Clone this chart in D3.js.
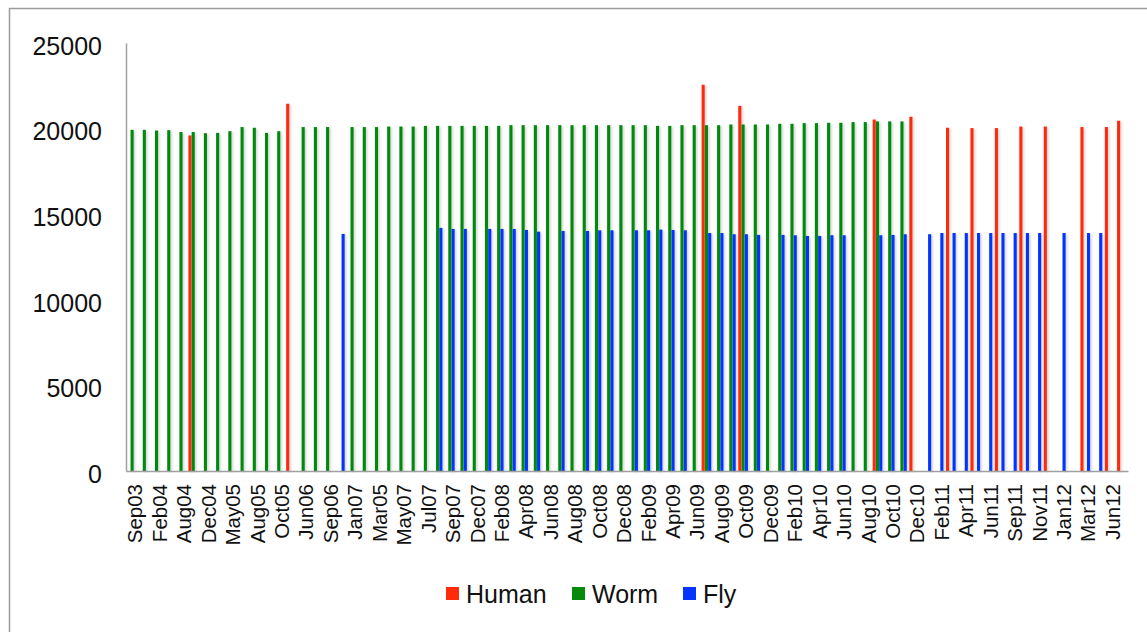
<!DOCTYPE html>
<html>
<head>
<meta charset="utf-8">
<script src="https://cdn.jsdelivr.net/npm/d3@7"></script>
<style>
  body { margin: 0; background: #fff; }
  text { font-family: "Liberation Sans", Arial, Helvetica, sans-serif; fill: #111; }
</style>
</head>
<body>
<svg id="chart"></svg>
<script>
// series names shown in the legend
var seriesNames = ["Human", "Worm", "Fly"];

// visible x labels (Excel shows every second category)
var tickLabels = ["Sep03","Feb04","Aug04","Dec04","May05","Aug05","Oct05","Jun06","Sep06","Jan07",
  "Mar05","May07","Jul07","Sep07","Dec07","Feb08","Apr08","Jun08","Aug08","Oct08",
  "Dec08","Feb09","Apr09","Jun09","Aug09","Oct09","Dec09","Feb10","Apr10","Jun10",
  "Aug10","Oct10","Dec10","Feb11","Apr11","Jun11","Sep11","Nov11","Jan12","Mar12","Jun12"];

var yTicks = [0, 5000, 10000, 15000, 20000, 25000];

// one value per category (82 categories), null where the series has no bar
var human = [
  null,null,null,null,null,19600,null,null,null,null,
  null,null,null,21450,null,null,null,null,null,null,
  null,null,null,null,null,null,null,null,null,null,
  null,null,null,null,null,null,null,null,null,null,
  null,null,null,null,null,null,null,22560,null,null,
  21330,null,null,null,null,null,null,null,null,null,
  null,20530,null,null,20690,null,null,20050,null,20030,
  null,20030,null,20120,null,20120,null,null,20090,null,
  20090,20460];

var worm = [
  19930,19930,19890,19910,19800,19800,19730,19750,19850,20090,
  20050,19750,19850,null,20090,20090,20090,null,20090,20090,
  20090,20120,20120,20120,20160,20160,20160,20160,20160,20160,
  20160,20200,20200,20200,20200,20200,20200,20200,20200,20200,
  20200,20200,20200,20160,20160,20200,20200,20200,20200,20240,
  20240,20240,20240,20280,20280,20320,20320,20340,20340,20380,
  20380,20420,20420,20420,null,null,null,null,null,null,
  null,null,null,null,null,null,null,null,null,null,
  null,null];

var fly = [
  null,null,null,null,null,null,null,null,null,null,
  null,null,null,null,null,null,null,13850,null,null,
  null,null,null,null,null,14200,14140,14140,null,14140,
  14140,14140,14080,13980,null,14020,null,14020,14060,14060,
  null,14060,14060,14100,14080,14060,null,13900,13900,13830,
  13830,13790,null,13790,13770,13730,13730,13770,13770,null,
  null,13770,13790,13830,null,13830,13900,13900,13900,13900,
  13900,13900,13900,13900,13900,null,13900,null,13900,13900,
  null,null];

var colors = {Human: "#ff2a0a", Worm: "#068a0c", Fly: "#0634ff"};

var width = 1147, height = 632;
var margin = {left: 126, right: 19, top: 43, bottom: 161};
var plotW = width - margin.left - margin.right;
var plotH = height - margin.top - margin.bottom;

var svg = d3.select("#chart")
    .attr("width", width)
    .attr("height", height);

var defs = svg.append("defs");
defs.append("filter")
    .attr("id", "shadow")
    .attr("x", "-100%").attr("y", "-5%")
    .attr("width", "400%").attr("height", "110%")
  .append("feDropShadow")
    .attr("dx", 1.5).attr("dy", 1)
    .attr("stdDeviation", 1.3)
    .attr("flood-color", "#000")
    .attr("flood-opacity", 0.18);

// outer chart frame
svg.append("rect")
    .attr("x", 9.5).attr("y", 8.5)
    .attr("width", 1150).attr("height", 640)
    .attr("fill", "none")
    .attr("stroke", "#9c9c9c")
    .attr("stroke-width", 1.5);

var g = svg.append("g")
    .attr("transform", "translate(" + margin.left + "," + margin.top + ")");

var index = d3.range(worm.length);

// category band and inner band for the three series
var x = d3.scaleBand()
    .domain(index)
    .range([0, plotW])
    .paddingInner(0.21)
    .paddingOuter(0.105);

var xs = d3.scaleBand()
    .domain(seriesNames)
    .range([0, x.bandwidth()])
    .paddingInner(0.05);

var y = d3.scaleLinear()
    .domain([0, 25000])
    .range([plotH, 0]);

var rows = index.map(function(i) {
    return {i: i, Human: human[i], Worm: worm[i], Fly: fly[i]};
});

// bars
var groups = g.append("g")
    .selectAll("g")
    .data(rows)
    .join("g")
    .attr("transform", function(d) { return "translate(" + x(d.i) + ",0)"; });

groups.selectAll("rect")
    .data(function(d) {
        return seriesNames
            .filter(function(s) { return d[s] != null; })
            .map(function(s) { return {key: s, value: d[s]}; });
    })
    .join("rect")
    .attr("x", function(d) { return xs(d.key); })
    .attr("y", function(d) { return y(d.value); })
    .attr("width", xs.bandwidth())
    .attr("height", function(d) { return plotH - y(d.value); })
    .attr("fill", function(d) { return colors[d.key]; })
    .attr("filter", "url(#shadow)");

// y axis: line plus labels, no tick marks
var yAxis = g.append("g")
    .call(d3.axisLeft(y).tickValues(yTicks).tickSize(0).tickPadding(24).tickFormat(d3.format("d")));
yAxis.select(".domain")
    .attr("stroke", "#a0a0a0")
    .attr("stroke-width", 1.5);
yAxis.selectAll("text")
    .attr("font-size", "25px")
    .attr("dy", "0.45em")
    .attr("fill", "#111");

// x axis with every second category labelled
var xAxis = g.append("g")
    .attr("transform", "translate(0," + plotH + ")")
    .call(d3.axisBottom(x)
        .tickValues(index.filter(function(i) { return i % 2 === 0; }))
        .tickFormat(function(i) { return tickLabels[i / 2]; })
        .tickSize(0)
        .tickSizeOuter(0));
xAxis.select(".domain")
    .attr("stroke", "#a0a0a0")
    .attr("stroke-width", 1.5);
xAxis.selectAll("text")
    .attr("font-size", "20.5px")
    .attr("fill", "#111")
    .attr("text-anchor", "end")
    .attr("transform", "rotate(-90)")
    .attr("x", -13)
    .attr("y", 0)
    .attr("dy", "0.5em");

// legend
var legendX = [446, 572, 683];
var legend = svg.append("g")
    .selectAll("g")
    .data(seriesNames)
    .join("g")
    .attr("transform", function(d, i) { return "translate(" + legendX[i] + ",587)"; });

legend.append("rect")
    .attr("width", 13)
    .attr("height", 13)
    .attr("fill", function(d) { return colors[d]; });

legend.append("text")
    .attr("x", 20)
    .attr("y", 16)
    .attr("font-size", "25px")
    .text(function(d) { return d; });
</script>
</body>
</html>
